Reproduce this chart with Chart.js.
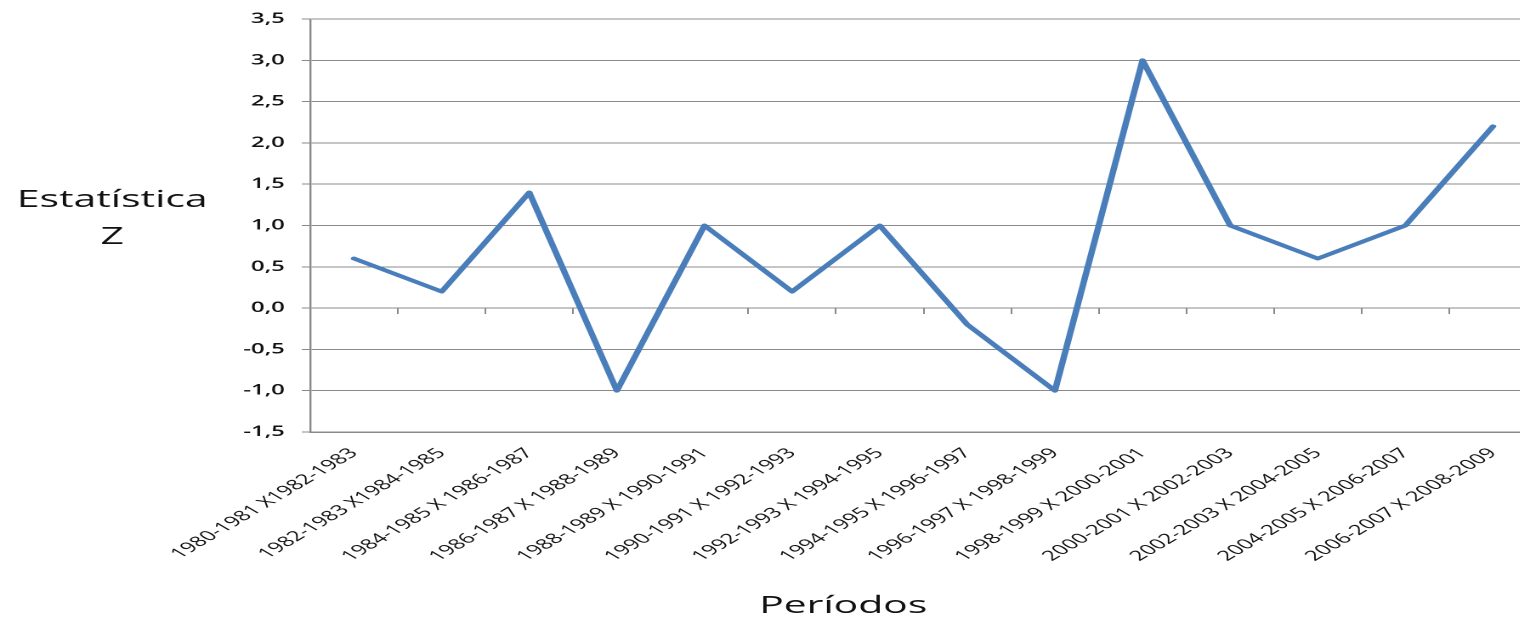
<!DOCTYPE html>
<html lang="pt">
<head>
<meta charset="utf-8">
<title>Estatística Z por períodos</title>
<script src="https://cdn.jsdelivr.net/npm/chart.js@4.4.1/dist/chart.umd.min.js"></script>
<style>
  html, body { margin: 0; padding: 0; background: #fff; overflow: hidden; }
  #wrap { width: 904px; height: 620px; transform: scaleX(1.7); transform-origin: 0 0; }
</style>
</head>
<body>
<div id="wrap"><canvas id="grafico" width="904" height="620"></canvas></div>
<script>
// Comparação de períodos bienais
const periodos = [
  "1980-1981 X1982-1983",
  "1982-1983 X1984-1985",
  "1984-1985 X 1986-1987",
  "1986-1987 X 1988-1989",
  "1988-1989 X 1990-1991",
  "1990-1991 X 1992-1993",
  "1992-1993 X 1994-1995",
  "1994-1995 X 1996-1997",
  "1996-1997 X 1998-1999",
  "1998-1999 X 2000-2001",
  "2000-2001 X 2002-2003",
  "2002-2003 X 2004-2005",
  "2004-2005 X 2006-2007",
  "2006-2007 X 2008-2009"
];

// Estatística Z de cada comparação
const estatisticaZ = [0.6, 0.2, 1.4, -1.0, 1.0, 0.2, 1.0, -0.2, -1.0, 3.0, 1.0, 0.6, 1.0, 2.2];

// Escala do eixo vertical
const eixoYMin = -1.5;
const eixoYMax = 3.5;
const eixoYPasso = 0.5;

const tituloY = ["Estatística", "Z"];
const tituloX = "Períodos";

const corTexto = "#111";
const corGrade = "#8a8a8a";
const fonte = "'Open Sans', 'DejaVu Sans', sans-serif";

// Títulos dos eixos desenhados na horizontal, ao estilo de planilha
const titulosEixos = {
  id: "titulosEixos",
  afterDraw(chart) {
    const ctx = chart.ctx;
    ctx.save();
    ctx.fillStyle = corTexto;
    ctx.font = "24px " + fonte;
    ctx.textAlign = "center";
    ctx.textBaseline = "middle";
    ctx.fillText(tituloY[0], 66, 200);
    ctx.fillText(tituloY[1], 66, 237);
    ctx.fillText(tituloX, 496, 606);
    ctx.restore();
  }
};

new Chart(document.getElementById("grafico"), {
  type: "line",
  data: {
    labels: periodos,
    datasets: [{
      data: estatisticaZ,
      borderColor: "#4A7EBB",
      borderWidth: 3.8,
      borderJoinStyle: "round",
      borderCapStyle: "round",
      pointRadius: 0,
      tension: 0,
      fill: false
    }]
  },
  options: {
    responsive: false,
    devicePixelRatio: 2,
    animation: false,
    layout: { padding: { top: 19, left: 0, right: 0, bottom: 0 } },
    plugins: { legend: { display: false }, tooltip: { enabled: false }, title: { display: false } },
    scales: {
      // rótulos das categorias na base do gráfico
      x: {
        type: "category",
        offset: true,
        afterFit(scale) { scale.height = 188; },
        border: { display: true, color: corGrade, width: 1.5 },
        grid: { offset: true, drawOnChartArea: false, drawTicks: false },
        ticks: {
          autoSkip: false,
          minRotation: 45,
          maxRotation: 45,
          padding: 13,
          color: corTexto,
          font: { family: fonte, size: 14 }
        }
      },
      // eixo horizontal que cruza em zero, só com as marcas de divisão
      xZero: {
        type: "category",
        labels: periodos,
        offset: true,
        position: { y: 0 },
        border: { display: false },
        grid: {
          offset: true,
          drawOnChartArea: false,
          drawTicks: true,
          tickLength: 6,
          color: corGrade
        },
        ticks: { display: false }
      },
      y: {
        min: eixoYMin,
        max: eixoYMax,
        afterFit(scale) { scale.width = 182.5; },
        border: { display: true, color: corGrade, width: 1.2 },
        grid: {
          color: corGrade,
          lineWidth: 1,
          drawTicks: true,
          tickLength: 5
        },
        ticks: {
          stepSize: eixoYPasso,
          padding: 10,
          color: corTexto,
          font: { family: fonte, size: 14, weight: "600" },
          callback: (v) => Number(v).toFixed(1).replace(".", ",")
        }
      }
    }
  },
  plugins: [titulosEixos]
});
</script>
</body>
</html>
